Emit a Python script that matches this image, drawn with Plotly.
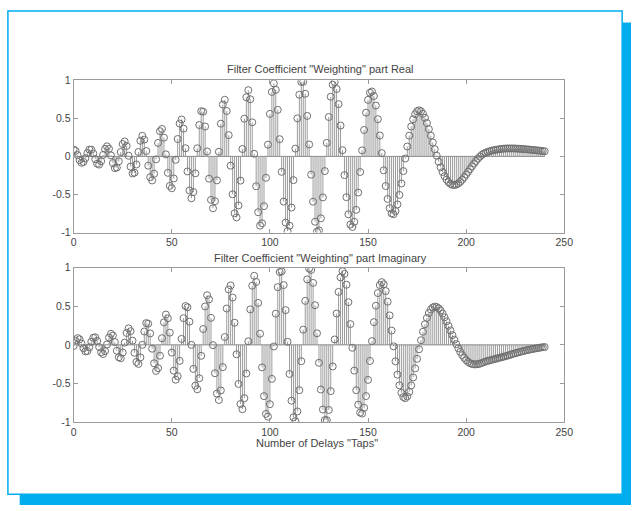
import plotly.graph_objects as go

# Tap index of the FIR filter (number of delays)
taps = list(range(0, 241))

# Real part of the filter coefficient weighting
coef_real = [
    0.089, 0.073, 0.016, -0.048, -0.084, -0.073, -0.023, 0.043, 0.089, 0.088,
    0.038, -0.036, -0.096, -0.108, -0.063, 0.019, 0.098, 0.132, 0.100, 0.013,
    -0.088, -0.154, -0.147, -0.065, 0.057, 0.162, 0.196, 0.137, 0.008, -0.134,
    -0.224, -0.215, -0.106, 0.058, 0.205, 0.270, 0.220, 0.070, -0.122, -0.273,
    -0.316, -0.228, -0.039, 0.176, 0.331, 0.360, 0.246, 0.027, -0.216, -0.387,
    -0.418, -0.290, -0.045, 0.228, 0.431, 0.484, 0.364, 0.107, -0.198, -0.447,
    -0.550, -0.468, -0.223, 0.106, 0.412, 0.593, 0.587, 0.392, 0.065, -0.293,
    -0.571, -0.682, -0.588, -0.315, 0.061, 0.429, 0.681, 0.743, 0.596, 0.279,
    -0.122, -0.498, -0.747, -0.801, -0.644, -0.318, 0.097, 0.495, 0.776, 0.869,
    0.750, 0.447, 0.034, -0.392, -0.733, -0.909, -0.879, -0.653, -0.281, 0.154,
    0.558, 0.846, 0.958, 0.873, 0.611, 0.226, -0.203, -0.593, -0.869, -0.981,
    -0.910, -0.672, -0.312, 0.102, 0.499, 0.809, 0.977, 0.980, 0.822, 0.531,
    0.156, -0.240, -0.595, -0.858, -0.989, -0.972, -0.813, -0.539, -0.193, 0.177,
    0.517, 0.783, 0.942, 0.975, 0.885, 0.686, 0.405, 0.081, -0.246, -0.536,
    -0.760, -0.895, -0.927, -0.859, -0.702, -0.475, -0.205, 0.079, 0.347, 0.574,
    0.742, 0.836, 0.852, 0.793, 0.667, 0.488, 0.274, 0.043, -0.183, -0.389,
    -0.559, -0.680, -0.748, -0.760, -0.719, -0.631, -0.506, -0.356, -0.193, -0.028,
    0.130, 0.272, 0.392, 0.487, 0.554, 0.593, 0.605, 0.593, 0.559, 0.506,
    0.438, 0.358, 0.272, 0.182, 0.094, 0.009, -0.071, -0.143, -0.206, -0.260,
    -0.305, -0.338, -0.361, -0.374, -0.376, -0.370, -0.355, -0.334, -0.306, -0.274,
    -0.239, -0.203, -0.166, -0.130, -0.094, -0.061, -0.030, -0.003, 0.020, 0.037,
    0.049, 0.059, 0.068, 0.075, 0.081, 0.086, 0.090, 0.094, 0.098, 0.101,
    0.103, 0.104, 0.104, 0.104, 0.104, 0.103, 0.102, 0.100, 0.099, 0.096,
    0.094, 0.092, 0.090, 0.087, 0.085, 0.082, 0.079, 0.076, 0.073, 0.070,
    0.067,
]

# Imaginary part of the filter coefficient weighting
coef_imag = [
    -0.014, 0.052, 0.087, 0.072, 0.018, -0.044, -0.085, -0.080, -0.030, 0.040,
    0.092, 0.098, 0.050, -0.029, -0.097, -0.119, -0.080, 0.005, 0.095, 0.143,
    0.121, 0.036, -0.077, -0.161, -0.173, -0.099, 0.029, 0.154, 0.214, 0.177,
    0.054, -0.103, -0.222, -0.247, -0.163, 0.000, 0.173, 0.282, 0.274, 0.148,
    -0.050, -0.239, -0.338, -0.302, -0.141, 0.086, 0.292, 0.393, 0.344, 0.158,
    -0.100, -0.334, -0.452, -0.406, -0.208, 0.077, 0.346, 0.503, 0.487, 0.300,
    0.000, -0.312, -0.529, -0.576, -0.433, -0.142, 0.205, 0.498, 0.643, 0.589,
    0.350, -0.004, -0.368, -0.632, -0.715, -0.591, -0.289, 0.101, 0.471, 0.718,
    0.770, 0.613, 0.287, -0.122, -0.507, -0.767, -0.834, -0.691, -0.371, 0.046,
    0.460, 0.767, 0.895, 0.815, 0.543, 0.144, -0.292, -0.665, -0.895, -0.931,
    -0.769, -0.441, -0.021, 0.404, 0.748, 0.943, 0.952, 0.775, 0.450, 0.040,
    -0.377, -0.724, -0.940, -0.989, -0.863, -0.588, -0.212, 0.197, 0.570, 0.848,
    0.988, 0.971, 0.803, 0.514, 0.150, -0.233, -0.579, -0.838, -0.975, -0.976,
    -0.844, -0.600, -0.280, 0.070, 0.406, 0.686, 0.874, 0.954, 0.920, 0.779,
    0.553, 0.269, -0.038, -0.334, -0.588, -0.776, -0.878, -0.891, -0.815, -0.664,
    -0.454, -0.209, 0.048, 0.294, 0.507, 0.671, 0.775, 0.813, 0.785, 0.697,
    0.559, 0.382, 0.185, -0.019, -0.214, -0.386, -0.524, -0.621, -0.677, -0.691,
    -0.668, -0.610, -0.526, -0.422, -0.305, -0.181, -0.058, 0.060, 0.170, 0.267,
    0.349, 0.412, 0.458, 0.485, 0.495, 0.490, 0.473, 0.444, 0.405, 0.357,
    0.304, 0.246, 0.186, 0.125, 0.066, 0.009, -0.044, -0.091, -0.133, -0.169,
    -0.198, -0.221, -0.238, -0.248, -0.253, -0.253, -0.250, -0.244, -0.235, -0.225,
    -0.214, -0.208, -0.201, -0.194, -0.187, -0.181, -0.174, -0.167, -0.161, -0.154,
    -0.147, -0.140, -0.132, -0.124, -0.116, -0.109, -0.102, -0.095, -0.088, -0.081,
    -0.075, -0.069, -0.064, -0.058, -0.053, -0.048, -0.044, -0.039, -0.035, -0.031,
    -0.028,
]

x_ticks = [0, 50, 100, 150, 200, 250]
y_ticks = [-1, -0.5, 0, 0.5, 1]
y_tick_text = ["-1", "-0.5", "0", "0.5", "1"]

title_real = 'Filter Coefficient "Weighting" part Real'
title_imag = 'Filter Coefficient "Weighting" part Imaginary'
x_label = 'Number of Delays "Taps"'

FONT = "Liberation Sans, Arial, sans-serif"
TEXT_COLOR = "#444444"
AXIS_COLOR = "#9a9a9a"
STEM_COLOR = "#9c9c9c"
MARKER_COLOR = "#707070"
FRAME_COLOR = "#00AEEF"
W, H = 640, 511


def stem_traces(xs, ys, xa, ya):
    """MATLAB-style stem plot: vertical stems, a zero baseline and open circles."""
    sx, sy = [], []
    for x, y in zip(xs, ys):
        sx += [x, x, None]
        sy += [0, y, None]
    stems = go.Scatter(x=sx, y=sy, mode="lines", xaxis=xa, yaxis=ya,
                       line=dict(color=STEM_COLOR, width=1),
                       hoverinfo="skip", showlegend=False)
    base = go.Scatter(x=[xs[0], xs[-1]], y=[0, 0], mode="lines", xaxis=xa, yaxis=ya,
                      line=dict(color="#8a8a8a", width=1),
                      hoverinfo="skip", showlegend=False)
    marks = go.Scatter(x=xs, y=ys, mode="markers", xaxis=xa, yaxis=ya,
                       marker=dict(symbol="circle-open", size=7,
                                   color=MARKER_COLOR, line=dict(width=1)),
                       showlegend=False)
    return [stems, base, marks]


fig = go.Figure()
for tr in stem_traces(taps, coef_real, "x", "y"):
    fig.add_trace(tr)
for tr in stem_traces(taps, coef_imag, "x2", "y2"):
    fig.add_trace(tr)


def px_x(p):
    return p / W


def px_y(p):
    return 1 - p / H


tick_font = dict(family=FONT, size=10.5, color=TEXT_COLOR)
x_common = dict(range=[0, 250], tickvals=x_ticks, ticks="inside", ticklen=4,
                tickcolor=AXIS_COLOR, showline=True, linecolor=AXIS_COLOR,
                linewidth=1, mirror="ticks", showgrid=False, zeroline=False,
                tickfont=tick_font)
y_common = dict(range=[-1, 1], tickvals=y_ticks, ticktext=y_tick_text,
                ticks="inside", ticklen=4, tickcolor=AXIS_COLOR, showline=True,
                linecolor=AXIS_COLOR, linewidth=1, mirror="ticks",
                showgrid=False, zeroline=False, tickfont=tick_font)

label_font = dict(family=FONT, size=11, color=TEXT_COLOR)

fig.update_layout(
    width=W, height=H,
    margin=dict(l=0, r=0, t=0, b=0),
    paper_bgcolor="white", plot_bgcolor="white",
    xaxis=dict(domain=[px_x(72), px_x(572)], anchor="y", **x_common),
    yaxis=dict(domain=[px_y(232), px_y(76)], anchor="x", **y_common),
    xaxis2=dict(domain=[px_x(72), px_x(572)], anchor="y2", **x_common),
    yaxis2=dict(domain=[px_y(426), px_y(268)], anchor="x2", **y_common),
    annotations=[
        dict(text=title_real, x=px_x(324), y=px_y(65), xref="paper", yref="paper",
             showarrow=False, xanchor="center", yanchor="middle", font=label_font),
        dict(text=title_imag, x=px_x(324), y=px_y(258), xref="paper", yref="paper",
             showarrow=False, xanchor="center", yanchor="middle", font=label_font),
        dict(text=x_label, x=px_x(320), y=px_y(448), xref="paper", yref="paper",
             showarrow=False, xanchor="center", yanchor="middle", font=label_font),
    ],
    shapes=[
        # drop shadow on the right and bottom of the frame
        dict(type="rect", xref="paper", yref="paper", x0=px_x(631), x1=1.0,
             y0=0.0, y1=px_y(17), fillcolor=FRAME_COLOR, line=dict(width=0),
             layer="below"),
        dict(type="rect", xref="paper", yref="paper", x0=px_x(17), x1=1.0,
             y0=0.0, y1=px_y(500), fillcolor=FRAME_COLOR, line=dict(width=0),
             layer="below"),
        # thin frame around the figure
        dict(type="rect", xref="paper", yref="paper", x0=px_x(5), x1=px_x(631),
             y0=px_y(500), y1=px_y(5), fillcolor="rgba(0,0,0,0)",
             line=dict(color=FRAME_COLOR, width=1.5), layer="below"),
    ],
)

fig.write_html("out.html")
